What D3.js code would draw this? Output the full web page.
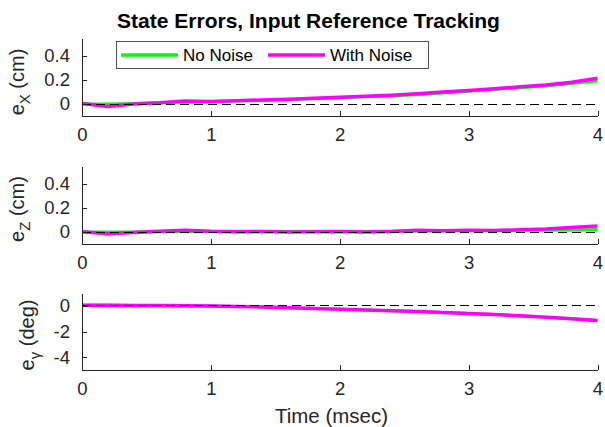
<!DOCTYPE html>
<html>
<head>
<meta charset="utf-8">
<script src="https://cdn.jsdelivr.net/npm/d3@7"></script>
<style>
  html, body { margin: 0; padding: 0; background: #fff; }
  svg { display: block; font-family: "Liberation Sans", Arial, Helvetica, sans-serif; }
</style>
</head>
<body>
<svg id="chart" width="605" height="427"></svg>
<script>
// ---------------- data ----------------
const time = [0, 0.2, 0.4, 0.6, 0.8, 1.0, 1.2, 1.4, 1.6, 1.8, 2.0, 2.2, 2.4, 2.6, 2.8, 3.0, 3.2, 3.4, 3.6, 3.8, 4.0];

const eX_noNoise   = [0, 0.0, 0.005, 0.01, 0.015, 0.02, 0.025, 0.03, 0.035, 0.043, 0.052, 0.06, 0.068, 0.078, 0.092, 0.106, 0.12, 0.135, 0.15, 0.17, 0.192];
const eX_withNoise = [0.005, -0.02, 0.0, 0.01, 0.025, 0.021, 0.028, 0.034, 0.04, 0.048, 0.057, 0.064, 0.073, 0.086, 0.099, 0.112, 0.127, 0.143, 0.158, 0.182, 0.215];

const eZ_noNoise   = [0, 0.0, 0.001, 0.002, 0.003, 0.003, 0.003, 0.003, 0.004, 0.004, 0.005, 0.005, 0.006, 0.008, 0.01, 0.012, 0.013, 0.014, 0.015, 0.017, 0.02];
const eZ_withNoise = [0.003, -0.015, -0.004, 0.006, 0.015, 0.006, 0.003, 0.005, 0.0, 0.003, 0.004, 0.0, 0.004, 0.014, 0.01, 0.014, 0.012, 0.018, 0.024, 0.038, 0.05];

const eG_noNoise   = [0.05, 0.04, 0.03, 0.02, 0.0, -0.02, -0.05, -0.09, -0.14, -0.2, -0.27, -0.33, -0.39, -0.45, -0.52, -0.6, -0.68, -0.78, -0.89, -1.01, -1.14];
const eG_withNoise = [0.05, 0.04, 0.03, 0.02, 0.0, -0.02, -0.05, -0.09, -0.14, -0.2, -0.27, -0.33, -0.39, -0.45, -0.52, -0.6, -0.68, -0.78, -0.89, -1.01, -1.15];

const xTicks = [0, 1, 2, 3, 4];
const yTicksCm = [0, 0.2, 0.4];
const yTicksDeg = [-4, -2, 0];

const seriesNames = ["No Noise", "With Noise"];
const titleText = "State Errors, Input Reference Tracking";
const xLabelText = "Time (msec)";

// ---------------- layout ----------------
const svg = d3.select("#chart");
const axisColor = "#262626";
const colors = ["#00ff00", "#ff00ff"];
const left = 82, right = 597.5;

const panels = [
  { top: 38,  bottom: 116, domain: [-0.1, 0.55], ticks: yTicksCm,  fmt: d => d === 0 ? "0" : d3.format(".1f")(d),
    a: eX_noNoise, b: eX_withNoise, lab: ["e", "X", " (cm)"], labX: 24, labY: 82 },
  { top: 166, bottom: 244, domain: [-0.1, 0.55], ticks: yTicksCm,  fmt: d => d === 0 ? "0" : d3.format(".1f")(d),
    a: eZ_noNoise, b: eZ_withNoise, lab: ["e", "Z", " (cm)"], labX: 24, labY: 209 },
  { top: 293, bottom: 370, domain: [-5, 1],      ticks: yTicksDeg, fmt: d => String(d),
    a: eG_noNoise, b: eG_withNoise, lab: ["e", "\u03B3", " (deg)"], labX: 34, labY: 335 }
];

const x = d3.scaleLinear().domain([0, 4]).range([left, right]);

panels.forEach(p => {
  const y = d3.scaleLinear().domain(p.domain).range([p.bottom, p.top]);
  const g = svg.append("g");

  const line = d3.line().x((d, i) => x(time[i])).y(d => y(d));
  g.append("path").datum(p.a).attr("d", line)
    .attr("fill", "none").attr("stroke", colors[0]).attr("stroke-width", 3).attr("stroke-linejoin", "round");
  g.append("path").datum(p.b).attr("d", line)
    .attr("fill", "none").attr("stroke", colors[1]).attr("stroke-width", 3.5).attr("stroke-linejoin", "round");

  // zero reference dashed line
  g.append("line")
    .attr("x1", x(0)).attr("x2", x(4)).attr("y1", y(0)).attr("y2", y(0))
    .attr("stroke", "#000").attr("stroke-width", 1).attr("stroke-dasharray", "9,5")
    .attr("shape-rendering", "crispEdges");

  // y axis
  const ya = g.append("g").attr("transform", `translate(${left},0)`)
    .call(d3.axisLeft(y).tickValues(p.ticks).tickFormat(p.fmt).tickSizeInner(-5).tickSizeOuter(0).tickPadding(12));
  ya.select(".domain").attr("stroke", axisColor).attr("shape-rendering", "crispEdges");
  ya.selectAll(".tick line").attr("stroke", axisColor).attr("shape-rendering", "crispEdges");
  ya.selectAll(".tick text").attr("fill", axisColor).attr("font-size", 18.5)
    .attr("font-family", "Liberation Sans, Arial, sans-serif");

  // x axis
  const xa = g.append("g").attr("transform", `translate(0,${p.bottom})`)
    .call(d3.axisBottom(x).tickValues(xTicks).tickFormat(d3.format("d")).tickSizeInner(-5).tickSizeOuter(0).tickPadding(12));
  xa.select(".domain").attr("stroke", axisColor).attr("shape-rendering", "crispEdges");
  xa.selectAll(".tick line").attr("stroke", axisColor).attr("shape-rendering", "crispEdges");
  xa.selectAll(".tick text").attr("fill", axisColor).attr("font-size", 18.5)
    .attr("font-family", "Liberation Sans, Arial, sans-serif");

  // y label
  const t = svg.append("text")
    .attr("transform", `translate(${p.labX},${p.labY}) rotate(-90)`)
    .attr("text-anchor", "middle").attr("fill", axisColor).attr("font-size", 20);
  t.append("tspan").text(p.lab[0]);
  t.append("tspan").attr("font-size", 15).attr("dy", 6).text(p.lab[1]);
  t.append("tspan").attr("dy", -6).text(p.lab[2]);
});

// title
svg.append("text").attr("x", 308.5).attr("y", 28).attr("text-anchor", "middle")
  .attr("font-size", 21).attr("font-weight", "bold").attr("fill", "#000").text(titleText);

// x label
svg.append("text").attr("x", 331.5).attr("y", 423).attr("text-anchor", "middle")
  .attr("font-size", 20.5).attr("fill", axisColor).text(xLabelText);

// legend
const lg = svg.append("g");
lg.append("rect").attr("x", 116.5).attr("y", 41.5).attr("width", 312).attr("height", 27)
  .attr("fill", "#fff").attr("stroke", axisColor).attr("stroke-width", 0.8);
const legendItems = [
  { name: seriesNames[0], color: colors[0], x1: 121, x2: 178, tx: 183 },
  { name: seriesNames[1], color: colors[1], x1: 268, x2: 325, tx: 330 }
];
legendItems.forEach(it => {
  lg.append("line").attr("x1", it.x1).attr("x2", it.x2).attr("y1", 55).attr("y2", 55)
    .attr("stroke", it.color).attr("stroke-width", 3.5);
  lg.append("text").attr("x", it.tx).attr("y", 61).attr("font-size", 17).attr("fill", "#000").text(it.name);
});
</script>
</body>
</html>
